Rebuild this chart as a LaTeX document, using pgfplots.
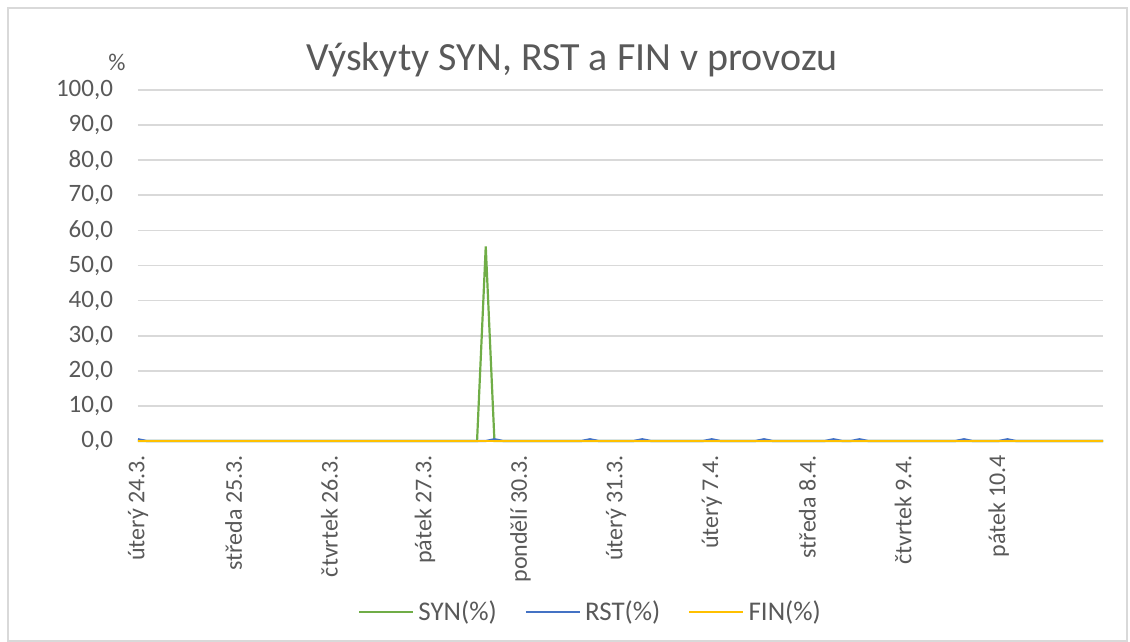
\documentclass[border=0pt]{standalone}
\usepackage{pgfplots}
\pgfplotsset{compat=1.18}
\usepackage{pgfplotstable}
\usepackage{fontspec}
\setmainfont{Carlito}
\definecolor{synC}{HTML}{70AD47}
\definecolor{rstC}{HTML}{4472C4}
\definecolor{finC}{HTML}{FFC000}
\definecolor{gridC}{HTML}{D9D9D9}
\definecolor{txtC}{HTML}{595959}

\pgfplotstableread[row sep=\\]{
syn rst fin\\
0 0.5 0\\ 0 0 0\\ 0 0 0\\ 0 0 0\\ 0 0 0\\ 0 0 0\\ 0 0 0\\ 0 0 0\\ 0 0 0\\ 0 0 0\\
0 0 0\\ 0 0 0\\ 0 0 0\\ 0 0 0\\ 0 0 0\\ 0 0 0\\ 0 0 0\\ 0 0 0\\ 0 0 0\\ 0 0 0\\
0 0 0\\ 0 0 0\\ 0 0 0\\ 0 0 0\\ 0 0 0\\ 0 0 0\\ 0 0 0\\ 0 0 0\\ 0 0 0\\ 0 0 0\\
0 0 0\\ 0 0 0\\ 0 0 0\\ 0 0 0\\ 0 0 0\\ 0 0 0\\ 0 0 0\\ 0 0 0\\ 0 0 0\\ 0 0 0\\
55.4 0 0\\ 0 0.5 0\\ 0 0 0\\ 0 0 0\\ 0 0 0\\ 0 0 0\\ 0 0 0\\ 0 0 0\\ 0 0 0\\ 0 0 0\\
0 0 0\\ 0 0 0\\ 0 0.5 0\\ 0 0 0\\ 0 0 0\\ 0 0 0\\ 0 0 0\\ 0 0 0\\ 0 0.5 0\\ 0 0 0\\
0 0 0\\ 0 0 0\\ 0 0 0\\ 0 0 0\\ 0 0 0\\ 0 0 0\\ 0 0.5 0\\ 0 0 0\\ 0 0 0\\ 0 0 0\\
0 0 0\\ 0 0 0\\ 0 0.5 0\\ 0 0 0\\ 0 0 0\\ 0 0 0\\ 0 0 0\\ 0 0 0\\ 0 0 0\\ 0 0 0\\
0 0.5 0\\ 0 0 0\\ 0 0 0\\ 0 0.5 0\\ 0 0 0\\ 0 0 0\\ 0 0 0\\ 0 0 0\\ 0 0 0\\ 0 0 0\\
0 0 0\\ 0 0 0\\ 0 0 0\\ 0 0 0\\ 0 0 0\\ 0 0.5 0\\ 0 0 0\\ 0 0 0\\ 0 0 0\\ 0 0 0\\
0 0.5 0\\ 0 0 0\\ 0 0 0\\ 0 0 0\\ 0 0 0\\ 0 0 0\\ 0 0 0\\ 0 0 0\\ 0 0 0\\ 0 0 0\\
0 0 0\\ 0 0 0\\
}\data

\begin{document}
\begin{tikzpicture}
\useasboundingbox (-69pt,-100.5pt) rectangle (496pt,220.5pt);
\draw[gridC, line width=0.6pt] (-65pt,-100pt) rectangle (494.5pt,216.5pt);
\begin{axis}[
  at={(0pt,0pt)}, anchor=south west,
  scale only axis, width=482.5pt, height=175.5pt,
  xmin=0, xmax=111, ymin=0, ymax=100,
  axis line style={draw=none},
  major tick length=0pt,
  xtick={0,11,22,33,44,55,66,77,88,99},
  xticklabels={úterý 24.3.,středa 25.3.,čtvrtek 26.3.,pátek 27.3.,pondělí 30.3.,úterý 31.3.,úterý 7.4.,středa 8.4.,čtvrtek 9.4.,pátek 10.4},
  xticklabel style={rotate=90, anchor=east, font=\fontsize{12}{14}\selectfont, text=txtC},
  xticklabel shift=3.5pt,
  ytick={0,10,...,100},
  yticklabels={{0,0},{10,0},{20,0},{30,0},{40,0},{50,0},{60,0},{70,0},{80,0},{90,0},{100,0}},
  yticklabel style={font=\fontsize{12.5}{14}\selectfont, text=txtC},
  yticklabel shift=9pt,
  ymajorgrids, grid style={gridC, line width=0.8pt},
  legend style={at={(0.47,-0.487)}, anchor=center, draw=none, fill=none,
    legend columns=3, font=\fontsize{13.5}{15}\selectfont, text=txtC,
    /tikz/every even column/.append style={column sep=12pt}},
  legend image code/.code={\draw[#1] (0pt,0pt) -- (27pt,0pt);},
  clip=false,
]
\addplot[synC, line width=1.1pt] table[x expr=\coordindex, y=syn] {\data};
\addplot[rstC, line width=1.1pt] table[x expr=\coordindex, y=rst] {\data};
\addplot[finC, line width=1.1pt] table[x expr=\coordindex, y=fin] {\data};
\legend{SYN(\%),RST(\%),FIN(\%)}
\end{axis}
\node[text=txtC, font=\fontsize{20}{24}\selectfont] at (217pt,190.5pt) {Výskyty SYN, RST a FIN v provozu};
\node[text=txtC, font=\fontsize{12}{14}\selectfont] at (-10.5pt,189.5pt) {\%};
\end{tikzpicture}
\end{document}
